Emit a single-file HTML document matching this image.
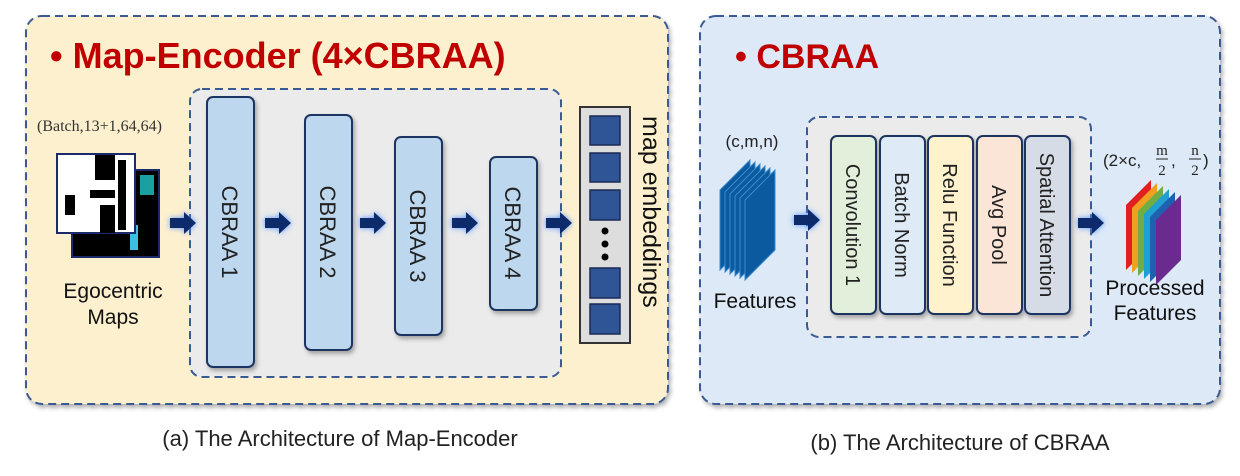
<!DOCTYPE html>
<html><head><meta charset="utf-8"><style>
body{margin:0;background:#fff}
svg{display:block}
text{font-family:"Liberation Sans",sans-serif}
</style></head><body>
<svg width="1240" height="476" viewBox="0 0 1240 476" xmlns="http://www.w3.org/2000/svg">
<defs>
<filter id="sh" x="-20%" y="-20%" width="140%" height="140%"><feDropShadow dx="2" dy="3" stdDeviation="2" flood-color="#000" flood-opacity="0.3"/></filter>
<filter id="gl" x="-50%" y="-100%" width="200%" height="300%"><feDropShadow dx="0" dy="0" stdDeviation="3" flood-color="#4a8cff" flood-opacity="0.9"/></filter>
<g id="arr"><path d="M0,-5 H14 V-11 L26,0 L14,11 V5 H0 Z" fill="#10296b" filter="url(#gl)"/></g>
</defs>
<!-- Left panel -->
<rect x="26" y="16" width="642" height="388" rx="16" fill="#fdf0cf" stroke="#3a5a93" stroke-width="2" stroke-dasharray="8,5" filter="url(#sh)"/>
<text x="50" y="68" font-size="36" font-weight="bold" fill="#c00000">• Map-Encoder (4×CBRAA)</text>
<rect x="190" y="89" width="371" height="288" rx="12" fill="#ebebeb" stroke="#3a5a93" stroke-width="2" stroke-dasharray="8,5"/>
<text x="37" y="131" font-size="16" fill="#333" style="font-family:'Liberation Serif',serif">(Batch,13+1,64,64)</text>
<rect x="72" y="170" width="87" height="87" fill="#000" stroke="#1a2a6a" stroke-width="2"/>
<rect x="76" y="172" width="20" height="16" fill="#1aa0a0"/><rect x="140" y="175" width="14" height="20" fill="#1aa0a0"/>
<rect x="130" y="225" width="8" height="25" fill="#3ac0e0"/>
<rect x="57" y="154" width="78" height="79" fill="#fff" stroke="#1a2a6a" stroke-width="2"/>
<path d="M95,155 h20 v25 h-20z M118,160 h8 v70 h-8z M65,195 h10 v20 h-10z M90,190 h25 v8 h-25z M100,205 h15 v28 h-15z" fill="#000"/>
<text x="113" y="298" font-size="21" fill="#111" text-anchor="middle">Egocentric</text>
<text x="113" y="324" font-size="21" fill="#111" text-anchor="middle">Maps</text>
<g fill="#bdd7ee" stroke="#1f3560" stroke-width="2" filter="url(#sh)">
<rect x="207" y="97" width="47" height="270" rx="6"/>
<rect x="305" y="115" width="47" height="235" rx="6"/>
<rect x="395" y="137" width="47" height="198" rx="6"/>
<rect x="490" y="157" width="47" height="153" rx="6"/>
</g>
<g font-size="22" fill="#222">
<text transform="translate(222,232) rotate(90)" text-anchor="middle">CBRAA 1</text>
<text transform="translate(320,232) rotate(90)" text-anchor="middle">CBRAA 2</text>
<text transform="translate(410,236) rotate(90)" text-anchor="middle">CBRAA 3</text>
<text transform="translate(505,233) rotate(90)" text-anchor="middle">CBRAA 4</text>
</g>
<use href="#arr" x="170" y="223"/><use href="#arr" x="265" y="223"/><use href="#arr" x="360" y="223"/><use href="#arr" x="452" y="223"/><use href="#arr" x="546" y="223"/>
<rect x="580" y="107" width="50" height="236" fill="#ddd" stroke="#333" stroke-width="2"/>
<g fill="#2f5597" stroke="#1a2a55" stroke-width="1.5">
<rect x="590" y="116" width="30" height="29"/><rect x="590" y="153" width="30" height="29"/><rect x="590" y="190" width="30" height="30"/>
<rect x="590" y="268" width="30" height="30"/><rect x="590" y="304" width="30" height="30"/>
</g>
<g fill="#000"><circle cx="605" cy="231" r="3.5"/><circle cx="605" cy="244" r="3.5"/><circle cx="605" cy="257" r="3.5"/></g>
<text transform="translate(643,116) rotate(90)" font-size="25" fill="#111">map embeddings</text>
<text x="340" y="446" font-size="22" fill="#222" text-anchor="middle">(a) The Architecture of Map-Encoder</text>
<!-- Right panel -->
<rect x="700" y="16" width="520" height="388" rx="16" fill="#dde9f6" stroke="#3a5a93" stroke-width="2" stroke-dasharray="8,5" filter="url(#sh)"/>
<text x="735" y="68" font-size="34" font-weight="bold" fill="#c00000">• CBRAA</text>
<rect x="807" y="117" width="284" height="220" rx="12" fill="#ebebeb" stroke="#3a5a93" stroke-width="2" stroke-dasharray="8,5"/>
<g stroke="#1f3560" stroke-width="2" filter="url(#sh)">
<rect x="831" y="136" width="45" height="178" rx="6" fill="#e2efda"/>
<rect x="880" y="136" width="45" height="178" rx="6" fill="#deebf7"/>
<rect x="928" y="136" width="45" height="178" rx="6" fill="#fff2cc"/>
<rect x="977" y="136" width="45" height="178" rx="6" fill="#fbe5d6"/>
<rect x="1025" y="136" width="45" height="178" rx="6" fill="#d6dce5"/>
</g>
<g font-size="20" fill="#222">
<text transform="translate(846,225) rotate(90)" text-anchor="middle">Convolution 1</text>
<text transform="translate(895,225) rotate(90)" text-anchor="middle">Batch Norm</text>
<text transform="translate(943,225) rotate(90)" text-anchor="middle">Relu Function</text>
<text transform="translate(992,225) rotate(90)" text-anchor="middle">Avg Pool</text>
<text transform="translate(1040,225) rotate(90)" text-anchor="middle">Spatial Attention</text>
</g>
<text x="752" y="147" font-size="17" fill="#222" text-anchor="middle">(c,m,n)</text>
<g fill="#0b5aa0" stroke="#3a8ad0" stroke-width="1">
<path d="M720,190 L750,160 V240 L720,270Z"/><path d="M725,192 L755,162 V242 L725,272Z"/><path d="M730,194 L760,164 V244 L730,274Z"/><path d="M735,196 L765,166 V246 L735,276Z"/><path d="M740,198 L770,168 V248 L740,278Z"/><path d="M745,200 L775,170 V250 L745,280Z"/>
</g>
<text x="755" y="308" font-size="21" fill="#111" text-anchor="middle">Features</text>
<use href="#arr" x="794" y="220"/>
<use href="#arr" x="1078" y="223"/>
<text x="1103" y="166" font-size="17" fill="#222">(2×c,</text>
<text x="1162" y="155" font-size="15" fill="#222" style="font-family:'Liberation Serif',serif" text-anchor="middle">m</text>
<line x1="1156" y1="159" x2="1168" y2="159" stroke="#222"/>
<text x="1162" y="175" font-size="15" fill="#222" style="font-family:'Liberation Serif',serif" text-anchor="middle">2</text>
<text x="1171" y="166" font-size="17" fill="#222">,</text>
<text x="1195" y="155" font-size="15" fill="#222" style="font-family:'Liberation Serif',serif" text-anchor="middle">n</text>
<line x1="1189" y1="159" x2="1201" y2="159" stroke="#222"/>
<text x="1195" y="175" font-size="15" fill="#222" style="font-family:'Liberation Serif',serif" text-anchor="middle">2</text>
<text x="1203" y="166" font-size="17" fill="#222">)</text>
<path d="M1126,205 L1151,180 V245 L1126,270Z" fill="#e02020"/>
<path d="M1132,208 L1157,183 V248 L1132,273Z" fill="#f0a020"/>
<path d="M1138,211 L1163,186 V251 L1138,276Z" fill="#70ad47"/>
<path d="M1144,214 L1169,189 V254 L1144,279Z" fill="#1fa0d0"/>
<path d="M1150,217 L1175,192 V257 L1150,282Z" fill="#2060b0"/>
<path d="M1156,220 L1181,195 V260 L1156,285Z" fill="#6a2a90"/>
<text x="1155" y="295" font-size="21" fill="#111" text-anchor="middle">Processed</text>
<text x="1155" y="320" font-size="21" fill="#111" text-anchor="middle">Features</text>
<text x="960" y="450" font-size="22" fill="#222" text-anchor="middle">(b) The Architecture of CBRAA</text>
</svg>
</body></html>
